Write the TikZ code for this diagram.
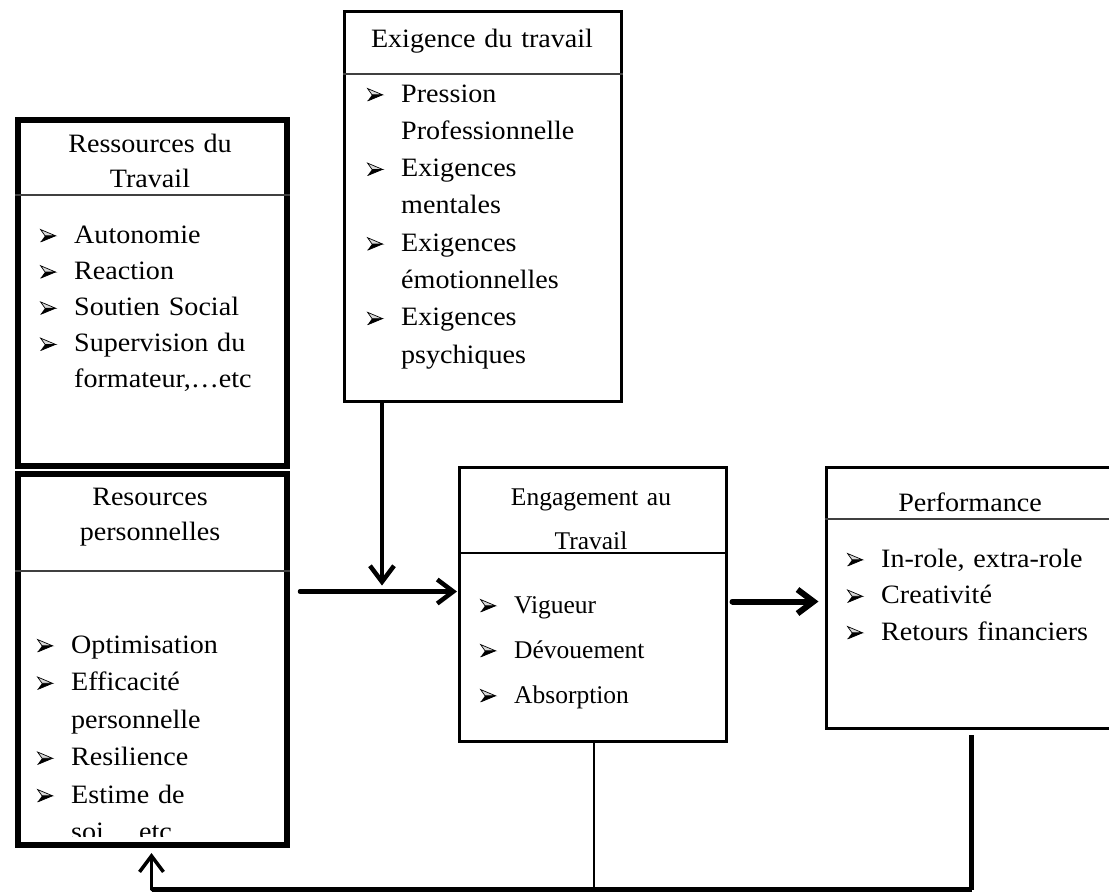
\documentclass[tikz,border=0pt]{standalone}
\usepackage{fontspec}
\setmainfont{Liberation Serif}
\newfontfamily\widefont[FakeStretch=1.06]{Liberation Serif}
\usetikzlibrary{arrows.meta}
\newcommand\bulshape{\tikz[x=1pt,y=1pt,baseline=-1pt]{\draw[line width=0.7pt, line join=miter, fill=black!15] (0,12.5) -- (15,6.2) -- (4.5,6.2) -- cycle; \fill[black] (0,0) -- (15,6.2) -- (4.5,6.2) -- cycle; \draw[line width=0.7pt] (0,0) -- (15,6.2);}}
\newcommand\bul{\makebox[34pt][l]{\bulshape}}
\newcommand\ind{\hspace*{34pt}}
\tikzset{
 box/.style={draw, rectangle, inner sep=0pt, anchor=north west},
 heavy/.style={box, line width=6pt},
 light/.style={box, line width=3pt},
 sepline/.style={line width=1.2pt, draw=black!75},
 wide/.style={font=\widefont\fontsize{26.5}{#1}\selectfont},
 narrow/.style={font=\fontsize{25.5}{#1}\selectfont},
 listtext/.style={anchor=base west, inner sep=0pt, text width=250pt, align=left},
 titletext/.style={anchor=base, inner sep=0pt, text width=260pt, align=center},
 arr/.style={line width=4.5pt, -{Straight Barb[length=16pt,width=24pt]}, line cap=round},
}
\begin{document}
\begin{tikzpicture}[x=1pt,y=-1pt]
\clip (0,0) rectangle (1109,892);
% boxes
\node[heavy, minimum width=269pt, minimum height=346.5pt] (rt) at (15,116.5) {};
\node[heavy, minimum width=269pt, minimum height=370.5pt] (rp) at (15,471) {};
\node[light, minimum width=277pt, minimum height=390pt] (ex) at (343,10) {};
\node[light, minimum width=266.5pt, minimum height=274pt] (en) at (458,466) {};
\node[light, minimum width=310pt, minimum height=261.5pt] (pf) at (824.5,465.5) {};
% header separators
\coordinate (h1) at (0,195);
\coordinate (h2) at (0,571);
\coordinate (h3) at (0,74);
\coordinate (h4) at (0,553);
\coordinate (h5) at (0,519);
\draw[sepline] (rt.west |- h1) -- (rt.east |- h1);
\draw[sepline] (rp.west |- h2) -- (rp.east |- h2);
\draw[sepline] (ex.west |- h3) -- (ex.east |- h3);
\draw[sepline, draw=black] (en.west |- h4) -- (en.east |- h4);
\draw[sepline] (pf.west |- h5) -- (pf.east |- h5);
% titles
\node[titletext, wide=35] (rtt) at (150,152) {Ressources du\\Travail};
\node[titletext, wide=35] (rpt) at (150,505) {Resources\\personnelles};
\node[titletext, wide=36] (ext) at (482,47) {Exigence du travail};
\node[titletext, narrow=44] (ent) at (591,505) {Engagement au\\Travail};
\node[titletext, wide=36] (pft) at (970,511) {Performance};
% lists
\node[listtext, wide=36.2] (rtl) at (40,243) {\bul Autonomie\\\bul Reaction\\\bul Soutien Social\\\bul Supervision du\\\ind formateur,\dots etc};
\begin{scope}
\clip (15,471) rectangle (284,836);
\node[listtext, wide=37.5] (rpl) at (37,653) {\bul Optimisation\\\bul Efficacité\\\ind personnelle\\\bul Resilience\\\bul Estime de\\\ind soi,\dots etc};
\end{scope}
\node[listtext, wide=37.3] (exl) at (367,102) {\bul Pression\\\ind Professionnelle\\\bul Exigences\\\ind mentales\\\bul Exigences\\\ind émotionnelles\\\bul Exigences\\\ind psychiques};
\node[listtext, narrow=45] (enl) at (480,613) {\bul Vigueur\\\bul Dévouement\\\bul Absorption};
\node[listtext, wide=36.5] (pfl) at (847,567) {\bul In-role, extra-role\\\bul Creativité\\\bul Retours financiers};
% connectors
\coordinate (j) at (382,591.5);
\coordinate (s) at (300,591.5);
\coordinate (m) at (0,601.5);
\draw[arr, shorten >=6pt] (ex.south -| j) -- (j);
\draw[arr, shorten >=1pt] (s) -- (j -| en.west);
\draw[arr, line width=6pt, shorten <=5pt, shorten >=6pt] (en.east |- m) -- (pf.west |- m);
\coordinate (b0) at (151.5,889.5);
\coordinate (b1) at (594,889.5);
\coordinate (b2) at (971.5,889.5);
\draw[line width=1.3pt] (en.south -| b1) -- (b1);
\draw[line width=5pt, shorten <=5pt] (pf.south -| b2) -- (b2);
\draw[line width=4.5pt] (b2) -- (b0);
\draw[arr, line width=3.5pt, shorten >=5.5pt] (b0) -- (rp.south -| b0);
\end{tikzpicture}
\end{document}
